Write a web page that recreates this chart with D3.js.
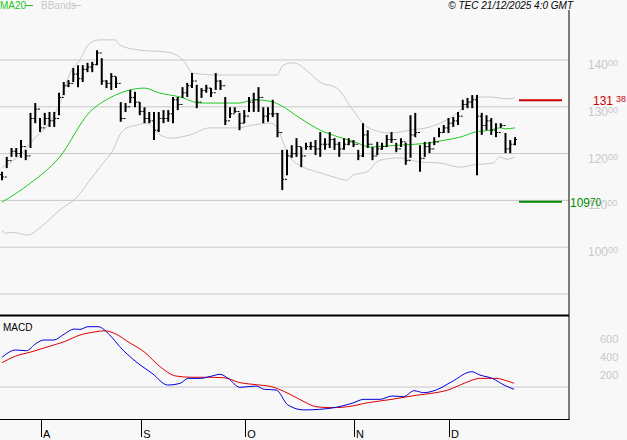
<!DOCTYPE html>
<html><head><meta charset="utf-8">
<script src="https://cdn.jsdelivr.net/npm/d3@7"></script>
<style>body{margin:0;background:#f8f8f8}svg{display:block;font-family:"Liberation Sans",Arial,sans-serif}</style>
</head><body><svg id="chart" width="627" height="440"></svg>
<script>
// price bars (one per trading day, late July -> 19 Dec)
var highs = [116.1,119.3,121.2,121.2,122.9,120.8,128.7,130.8,127.6,128.7,128.9,128.9,133.0,135.3,135.7,138.3,138.9,138.9,139.4,139.6,
  142.1,140.4,135.7,137.2,136.4,131.0,130.8,133.6,133.2,131.0,129.9,128.9,128.9,128.9,129.3,129.3,132.1,132.1,134.2,135.1,
  137.2,134.7,134.0,134.7,134.0,137.2,135.7,132.1,129.9,129.9,128.7,129.3,132.1,133.0,134.2,129.9,129.9,131.5,128.7,120.8,
  120.8,121.8,123.3,121.4,122.3,122.5,122.9,124.6,123.3,124.6,123.3,122.5,123.3,123.3,122.9,120.8,126.5,125.0,121.4,122.5,
  122.3,124.0,124.6,122.3,123.3,122.3,128.2,128.7,121.8,122.5,122.5,123.5,125.5,126.1,127.6,127.8,128.9,131.5,131.9,132.5,
  132.5,128.7,128.2,127.6,126.5,126.5,124.4,122.9,123.5];
var lows = [114.3,116.9,119.3,119.3,119.1,118.6,121.2,126.5,124.6,126.1,125.7,125.7,128.2,132.5,134.2,135.3,134.2,135.3,137.4,137.4,
  138.9,134.7,134.0,133.6,134.0,126.8,128.9,130.8,129.9,128.2,126.5,126.5,122.9,124.6,126.5,126.8,126.5,129.3,131.9,132.1,
  134.0,129.7,131.9,133.0,132.1,133.6,133.6,126.1,127.6,128.7,125.0,126.5,128.9,128.9,128.9,126.5,126.8,127.8,123.5,112.2,
  115.4,119.1,119.3,117.1,120.8,120.8,119.7,119.3,120.8,121.2,120.8,119.3,120.8,121.8,121.4,118.6,119.3,121.2,118.6,119.7,
  120.8,121.4,122.3,120.3,121.4,117.6,119.1,123.5,116.1,119.3,120.1,121.8,123.5,124.4,124.4,125.7,126.1,129.3,129.7,129.7,
  115.4,124.0,125.0,124.0,123.5,125.5,120.1,120.1,121.8];
var closes = [115.0,118.5,120.5,120.0,121.5,119.5,127.5,129.5,125.5,127.5,127.0,127.5,132.0,134.5,135.0,137.0,136.0,138.0,138.5,139.0,
  141.5,135.5,135.0,136.5,135.0,127.5,130.0,132.0,131.0,129.0,127.5,127.0,125.0,127.5,127.5,128.5,131.5,130.5,133.0,134.5,
  135.5,131.0,133.5,134.0,133.0,135.5,134.5,127.0,128.5,129.0,126.5,128.0,131.0,131.5,132.0,128.0,128.5,128.5,124.5,114.5,
  119.5,120.0,121.5,119.5,121.5,121.5,121.0,122.0,122.0,123.0,122.0,121.0,122.0,122.5,122.0,119.5,124.0,122.0,119.5,121.0,
  121.5,123.0,123.0,121.0,122.5,118.5,124.0,124.5,119.0,121.5,121.0,122.5,124.5,125.5,126.5,127.0,128.0,130.5,131.0,131.5,
  128.0,126.0,127.0,125.0,124.5,126.0,121.0,122.0,123.0];
var firstOpen = 115.5;

// indicator readings [bar index, value]
var ma20 = [[0,109.6],[6,113.7],[12,119.1],[18.5,128.9],[22.7,131.9],[27,133.6],[30,134.0],[33,133.0],[37.5,132.1],[41.7,130.8],
  [45,130.8],[50,130.8],[53,131.5],[56.4,131.2],[58.5,130.4],[62.7,127.6],[67,125.0],[71,123.5],[74.3,122.5],[77.5,121.4],
  [80.6,121.6],[83.8,121.8],[87,122.0],[90,122.3],[93.3,122.9],[96.4,123.5],[99.6,124.6],[102.7,125.0],[104.8,125.5],[106,125.3],[108,125.5]];
var bandUp = [[0,117.0],[1,117.6],[3.8,119.7],[6.5,122.9],[10.1,126.8],[12.2,130.8],[14.3,137.2],[16.4,140.0],[18.5,143.6],[20.6,144.3],
  [23.8,144.3],[24.8,143.2],[29,142.1],[34.7,141.7],[38.1,140.0],[40.2,137.2],[45.3,136.8],[57.9,136.8],[59.2,138.9],[61.3,139.4],
  [64.8,137.2],[66.9,135.3],[70.5,134.0],[73.9,129.3],[76.8,125.7],[81.7,124.4],[85.9,125.0],[90.1,125.7],[94.3,127.6],[97.9,130.4],
  [100,132.1],[102.7,132.1],[106.3,131.7],[108,131.9]];
var bandLow = [[0,103.4],[1,103.0],[2.3,103.2],[5.3,102.6],[8.6,104.7],[12.2,108.0],[15.8,110.7],[18.5,114.3],[21.3,118.0],[23.4,120.8],
  [24.8,124.0],[26.3,125.5],[28.4,126.1],[30.5,126.5],[33.3,124.0],[35.4,123.3],[39.6,124.0],[43.8,125.5],[49.5,125.5],[52.8,126.1],
  [56.4,126.5],[57.9,125.7],[59.2,122.3],[60.6,119.3],[63.4,117.1],[66.3,116.1],[70.5,114.8],[72.6,114.3],[73.9,115.4],[76.8,116.1],
  [79.6,118.6],[83.8,119.1],[88,118.2],[92.2,118.0],[96.4,117.1],[99.2,117.6],[103.4,118.0],[104.8,119.3],[106.3,118.8],[108,119.3]];
var macdLine = [[0,330],[2.9,411],[5.1,403],[7.2,485],[8.8,522],[10.9,522],[13.1,588],[15.2,644],[16.4,640],[18.1,670],[20.2,670],
  [22.7,577],[24.8,447],[28.2,281],[31.6,152],[34.9,22],[37.5,41],[39.2,96],[41.7,96],[44.2,122],[45.9,141],[47.6,96],[50.1,-4],
  [53.5,11],[55.2,-26],[57.7,-33],[60.2,-200],[63.6,-255],[66.9,-248],[70.3,-226],[73.7,-181],[76.2,-137],[79.6,-137],[82.1,-100],
  [84.6,-107],[86.7,-41],[88.8,-63],[91.4,-33],[94.7,59],[98.9,170],[100.6,133],[103.2,96],[105.7,22],[107.8,-26]];
var signalLine = [[0,270],[2.9,344],[6.3,392],[9.7,448],[13.1,503],[16.4,577],[19.8,614],[21.5,625],[24,588],[26.5,503],[29.9,392],
  [33.3,225],[36.6,122],[40,108],[43.4,108],[46.7,103],[50.1,48],[53.5,26],[56.8,3],[60.2,-70],[63.6,-163],[66.1,-219],[69.5,-230],
  [72.8,-219],[77.1,-174],[82.1,-137],[87.2,-92],[90.5,-70],[93.9,-33],[97.3,41],[100.6,96],[104,96],[105.7,78],[107.8,41]];

var months = ['A','S','O','N','D'];
var monthStart = [8.2,29.3,51.2,74.1,94.1];
var priceTicks = [140,130,120,110,100];
var gridLevels = [140,130,120,110,100,90];
var macdTicks = [600,400,200];
var hiMark = 131.38, loMark = 109.70;

var svg = d3.select('#chart');
var plotR = 569;

var x = d3.scaleLinear().domain([0, 108]).range([2, 515]);
var y = d3.scaleLinear().domain([90, 140]).range([294, 60]);
var ym = d3.scaleLinear().domain([0, 600]).range([387, 333]);

svg.append('rect').attr('width', 627).attr('height', 440).attr('fill', '#f8f8f8');

// grid
svg.append('g').selectAll('line').data(gridLevels).enter().append('line')
  .attr('x1', 0).attr('x2', plotR).attr('y1', d => y(d)).attr('y2', d => y(d))
  .attr('stroke', '#c8c8c8');
svg.append('line').attr('x1', 0).attr('x2', plotR).attr('y1', ym(0)).attr('y2', ym(0)).attr('stroke', '#c8c8c8');

// price axis labels
var pl = svg.append('g').selectAll('text').data(priceTicks).enter().append('text')
  .attr('x', 588).attr('y', d => y(d) + 9).attr('fill', '#c8c8c8').attr('font-size', 12);
pl.append('tspan').text(d => d);
pl.append('tspan').attr('font-size', 9).attr('dy', -3).text('00');

svg.append('g').selectAll('text').data(macdTicks).enter().append('text')
  .attr('x', 600).attr('y', d => ym(d) + 10).attr('fill', '#c8c8c8').attr('font-size', 11).text(d => d);

// bands and MA
var line = d3.line().x(d => x(d[0])).y(d => y(d[1])).curve(d3.curveMonotoneX);
svg.append('path').attr('d', line(bandUp)).attr('fill', 'none').attr('stroke', '#c8c8c8');
svg.append('path').attr('d', line(bandLow)).attr('fill', 'none').attr('stroke', '#c8c8c8');
svg.append('path').attr('d', line(ma20)).attr('fill', 'none').attr('stroke', '#1ec81e');

// OHLC bars
var bars = svg.append('g').attr('stroke', '#000').selectAll('g').data(closes).enter().append('g');
bars.append('line').attr('x1', (d, i) => x(i)).attr('x2', (d, i) => x(i))
  .attr('y1', (d, i) => y(highs[i])).attr('y2', (d, i) => y(lows[i])).attr('stroke-width', 2);
bars.append('line').attr('x1', (d, i) => x(i) - 2).attr('x2', (d, i) => x(i))
  .attr('y1', (d, i) => y(i ? closes[i - 1] : firstOpen)).attr('y2', (d, i) => y(i ? closes[i - 1] : firstOpen));
bars.append('line').attr('x1', (d, i) => x(i)).attr('x2', (d, i) => x(i) + 2)
  .attr('y1', d => y(d)).attr('y2', d => y(d));

// high / low markers
svg.append('line').attr('x1', 519).attr('x2', 562).attr('y1', y(hiMark)).attr('y2', y(hiMark))
  .attr('stroke', '#cc0000').attr('stroke-width', 2);
svg.append('line').attr('x1', 519).attr('x2', 562).attr('y1', y(loMark)).attr('y2', y(loMark))
  .attr('stroke', '#008800').attr('stroke-width', 2);
var ht = svg.append('text').attr('x', 593).attr('y', y(hiMark) + 5).attr('fill', '#cc0000').attr('font-size', 12);
ht.append('tspan').text('131');
ht.append('tspan').attr('font-size', 9).attr('dx', 3).attr('dy', -3).text('38');
var lt = svg.append('text').attr('x', 570).attr('y', y(loMark) + 5).attr('fill', '#008800').attr('font-size', 12);
lt.append('tspan').text('109');
lt.append('tspan').attr('font-size', 10).attr('dy', -1).text('70');

// MACD
var mline = d3.line().x(d => x(d[0])).y(d => ym(d[1])).curve(d3.curveMonotoneX);
svg.append('path').attr('d', mline(signalLine)).attr('fill', 'none').attr('stroke', '#dd0000');
svg.append('path').attr('d', mline(macdLine)).attr('fill', 'none').attr('stroke', '#0000dd');
svg.append('text').attr('x', 3).attr('y', 331).attr('font-size', 10).attr('fill', '#000').text('MACD');

// frame
svg.append('line').attr('x1', plotR).attr('x2', plotR).attr('y1', 10).attr('y2', 420).attr('stroke', '#000');
svg.append('line').attr('x1', 0).attr('x2', plotR).attr('y1', 315.5).attr('y2', 315.5).attr('stroke', '#000').attr('stroke-width', 2);
svg.append('line').attr('x1', 0).attr('x2', plotR + 0.5).attr('y1', 419.5).attr('y2', 419.5).attr('stroke', '#000');

// month ticks
var mt = svg.append('g').selectAll('g').data(months).enter().append('g');
mt.append('line').attr('x1', (d, i) => Math.round(x(monthStart[i])) + 0.5).attr('x2', (d, i) => Math.round(x(monthStart[i])) + 0.5)
  .attr('y1', 420).attr('y2', 437).attr('stroke', '#000');
mt.append('text').attr('x', (d, i) => x(monthStart[i]) + 2).attr('y', 438).attr('font-size', 11).text(d => d);

// legend and header
svg.append('text').attr('x', 0).attr('y', 9).attr('font-size', 10).attr('fill', '#1ec81e').text('MA20');
svg.append('line').attr('x1', 25).attr('x2', 33).attr('y1', 5.5).attr('y2', 5.5).attr('stroke', '#1ec81e');
svg.append('text').attr('x', 41).attr('y', 9).attr('font-size', 10).attr('fill', '#c8c8c8').text('BBands');
svg.append('line').attr('x1', 72).attr('x2', 81).attr('y1', 5.5).attr('y2', 5.5).attr('stroke', '#c8c8c8');
svg.append('text').attr('x', 573).attr('y', 9).attr('text-anchor', 'end').attr('font-size', 10)
  .attr('font-style', 'italic').text('© TEC 21/12/2025 4:0 GMT');
</script></body></html>
